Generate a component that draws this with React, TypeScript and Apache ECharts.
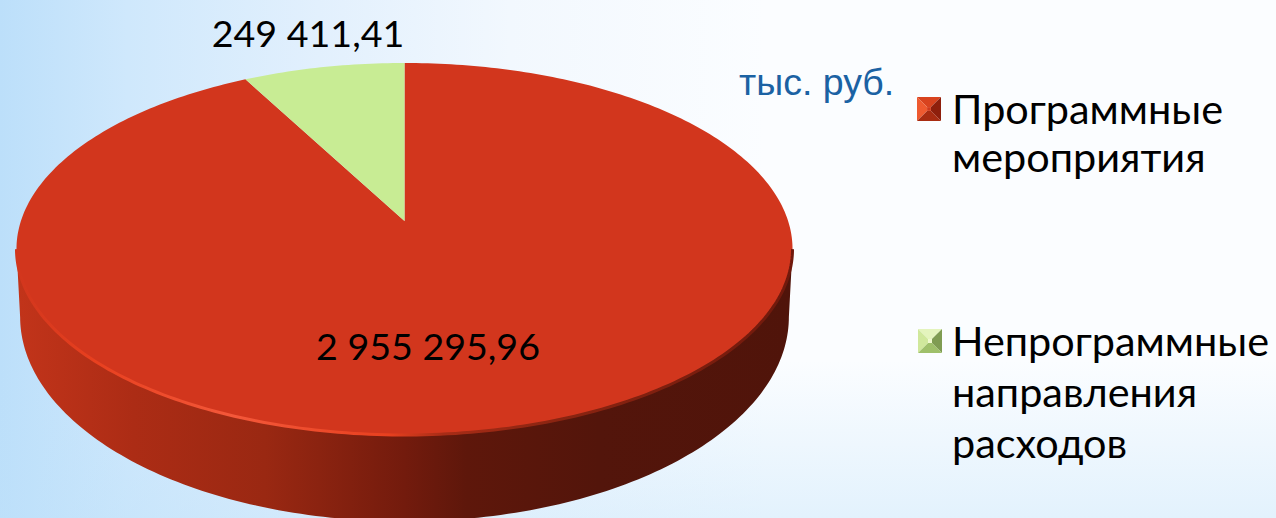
import React, { useEffect, useRef } from "react";
import * as echarts from "echarts";

const categories = ["Программные\nмероприятия", "Непрограммные\nнаправления\nрасходов"];
const sliceValues = [2955295.96, 249411.41];
const sliceColors = ["#d2361d", "#c8ec94"];
const unitLabel = "тыс. руб.";

const FONT = "Lato";
const k = 0.1505;
const topFace = { x0: 404.5, y0: 221, A: 383.6, B: 181.8 };
const bottomFace = { x0: 404.5, y0: 286, A: 380, B: 200 };

function project(face: typeof topFace, deg: number): number[] {
  const t = (deg * Math.PI) / 180;
  const u = Math.sin(t);
  const v = -Math.cos(t);
  const w = 1 - k * v;
  return [face.x0 + (face.A * u) / w, face.y0 + (face.B * v) / w];
}
function arc(face: typeof topFace, from: number, to: number): number[][] {
  const pts: number[][] = [];
  const n = Math.max(2, Math.ceil(Math.abs(to - from)));
  for (let i = 0; i <= n; i++) pts.push(project(face, from + ((to - from) * i) / n));
  return pts;
}
function formatValue(v: number): string {
  const [a, b] = v.toFixed(2).split(".");
  return a.replace(/\B(?=(\d{3})+$)/g, " ") + "," + b;
}

const total = sliceValues.reduce((s, v) => s + v, 0);
const sliceRanges = sliceValues.map((v, i) => {
  const before = sliceValues.slice(0, i).reduce((s, x) => s + x, 0);
  return [(before / total) * 360, ((before + v) / total) * 360];
});
const labelPos = [
  [428, 345],
  [308, 32],
];

function renderSlice(params: any, api: any) {
  const i = params.dataIndex;
  const a0 = api.value(0);
  const a1 = api.value(1);
  const children: any[] = [];
  const ws = Math.max(a0, 98.7);
  const we = Math.min(a1, 261.3);
  if (ws < we) {
    const wall = arc(topFace, ws, we).concat(arc(bottomFace, we, ws));
    children.push({
      type: "polygon",
      shape: { points: wall },
      style: {
        fill: {
          type: "linear", x: 0, y: 0, x2: 1, y2: 0,
          colorStops: [
            { offset: 0, color: "#c2341a" },
            { offset: 0.15, color: "#ac2c15" },
            { offset: 0.32, color: "#9a2812" },
            { offset: 0.5, color: "#731b0d" },
            { offset: 0.58, color: "#5e170b" },
            { offset: 0.75, color: "#53150b" },
            { offset: 1, color: "#50140a" },
          ],
        },
      },
    });
  }
  const face = [[topFace.x0, topFace.y0]].concat(arc(topFace, a0, a1));
  children.push({ type: "polygon", shape: { points: face }, style: { fill: sliceColors[i] } });
  if (ws < we) {
    children.push({
      type: "polyline",
      shape: { points: arc(topFace, ws, we) },
      style: {
        fill: "none",
        lineWidth: 3,
        stroke: {
          type: "linear", x: 0, y: 0, x2: 1, y2: 0,
          colorStops: [
            { offset: 0, color: "#d2361d" },
            { offset: 0.1, color: "#e8401f" },
            { offset: 0.28, color: "#f4583a" },
            { offset: 0.48, color: "#e8401f" },
            { offset: 0.55, color: "#a82c16" },
            { offset: 0.7, color: "#8a2411" },
            { offset: 1, color: "#70190c" },
          ],
        },
      },
    });
  }
  children.push({
    type: "text",
    style: {
      x: labelPos[i][0], y: labelPos[i][1],
      text: formatValue(sliceValues[i]),
      fill: "#000", font: `37.6px ${FONT}`, align: "center", verticalAlign: "middle",
    },
  });
  return { type: "group", children };
}

function bevel(x: number, y: number, s: number, c: string[]): any[] {
  const b = s * 0.42;
  const tl = [x, y], tr = [x + s, y], br = [x + s, y + s], bl = [x, y + s];
  const itl = [x + b, y + b], itr = [x + s - b, y + b], ibr = [x + s - b, y + s - b], ibl = [x + b, y + s - b];
  const poly = (points: number[][], fill: string) => ({ type: "polygon", z: 10, shape: { points }, style: { fill } });
  return [
    poly([tl, tr, itr, itl], c[0]),
    poly([tl, bl, ibl, itl], c[1]),
    poly([tr, br, ibr, itr], c[2]),
    poly([bl, br, ibr, ibl], c[3]),
    poly([itl, itr, ibr, ibl], c[4]),
  ];
}

export default function App() {
  const ref = useRef<HTMLDivElement>(null);
  useEffect(() => {
    document.body.style.margin = "0";
    document.body.style.overflow = "hidden";
    const chart = echarts.init(ref.current!, undefined, { renderer: "svg" });
    chart.setOption({
      animation: false,
      backgroundColor: "#fbfdff",
      graphic: [
        {
          type: "rect", z: 0, shape: { x: 0, y: 0, width: 1276, height: 518 },
          style: {
            fill: {
              type: "linear", x: 0, y: 0, x2: 1, y2: 0,
              colorStops: [
                { offset: 0, color: "#bcdffa" },
                { offset: 0.1, color: "#cfe8fc" },
                { offset: 0.25, color: "#e2f0fd" },
                { offset: 0.4, color: "#f2f8fe" },
                { offset: 0.6, color: "#fbfdff" },
                { offset: 1, color: "#fbfdff" },
              ],
            },
          },
        },
        {
          type: "rect", z: 0, shape: { x: 0, y: 360, width: 1276, height: 158 },
          style: {
            fill: {
              type: "linear", x: 0, y: 0, x2: 0, y2: 1,
              colorStops: [
                { offset: 0, color: "rgba(190,225,250,0)" },
                { offset: 1, color: "rgba(190,225,250,0.4)" },
              ],
            },
          },
        },
        {
          type: "text", z: 10,
          style: { x: 739, y: 82, text: unitLabel, fill: "#1b62a3", font: "37.5px 'Liberation Sans'", verticalAlign: "middle" },
        },
        ...bevel(917, 97, 24, ["#d8431f", "#ee5a30", "#8e1f0c", "#a82c12", "#d03a1c"]),
        ...bevel(918, 329, 24, ["#e4f4bd", "#d0e89c", "#7f9c52", "#9fc06a", "#eef8cc"]),
        {
          type: "text", z: 10,
          style: { x: 952, y: 84, text: categories[0], fill: "#000", font: `41.4px ${FONT}`, lineHeight: 48 },
        },
        {
          type: "text", z: 10,
          style: { x: 952, y: 314, text: categories[1], fill: "#000", font: `41.4px ${FONT}`, lineHeight: 51 },
        },
      ],
      series: [
        {
          type: "custom",
          coordinateSystem: "none",
          z: 2,
          silent: true,
          renderItem: renderSlice,
          data: sliceRanges.map((r) => ({ value: r })),
        },
      ],
    });
    return () => chart.dispose();
  }, []);
  return <div ref={ref} style={{ position: "fixed", left: 0, top: 0, width: 1276, height: 518 }} />;
}
